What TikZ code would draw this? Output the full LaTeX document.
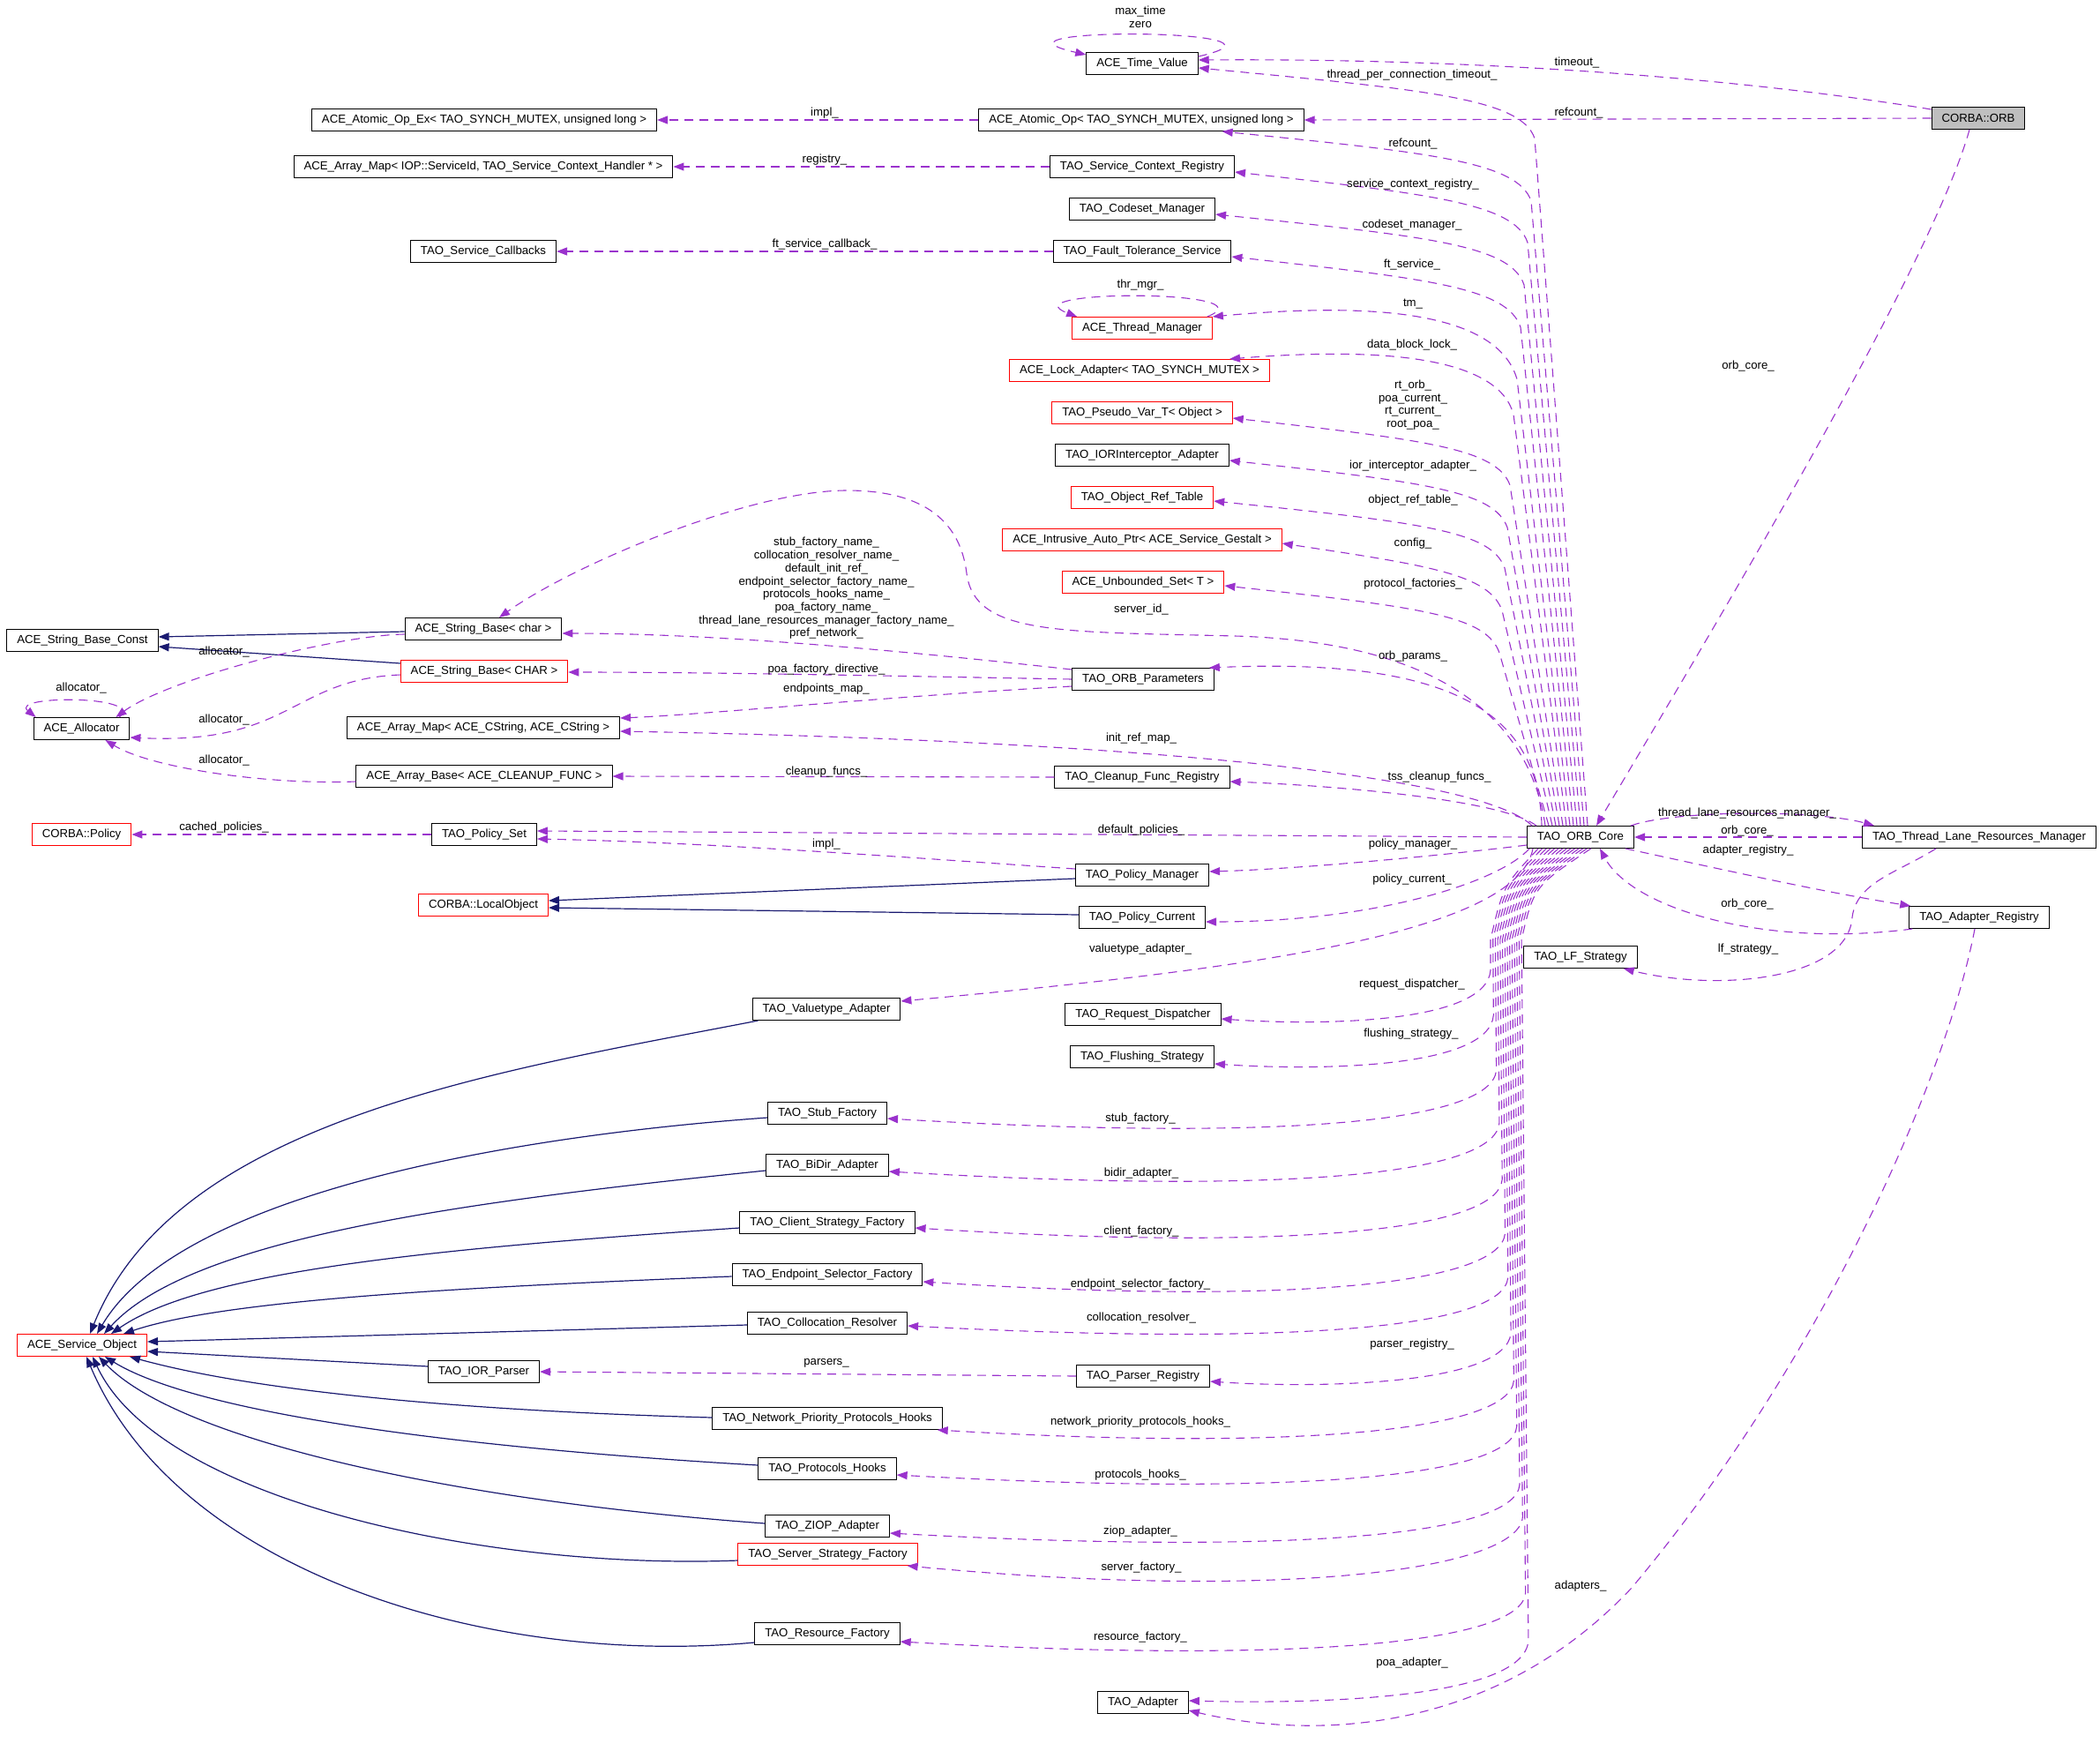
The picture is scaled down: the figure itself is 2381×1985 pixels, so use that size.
\documentclass[tikz,border=0pt]{standalone}
\usepackage{fontspec}
\setmainfont{Liberation Sans}
\usepackage{tikz}
\usetikzlibrary{arrows.meta}
\definecolor{memberc}{RGB}{154,50,205}
\definecolor{inheritc}{RGB}{25,25,112}
\definecolor{rootfill}{RGB}{191,191,191}

\begin{document}
\begin{tikzpicture}[
        x = 1pt, y = -1pt,
        font = \fontsize{13.2}{14.7}\selectfont,
        cls/.style = {draw=black, fill=white, line width=1pt, inner xsep=11.5pt,
            inner ysep=0pt, minimum height=25pt},
        clsred/.style = {cls, draw=red},
        member/.style = {draw=memberc, line width=1.1pt, dash pattern=on 10pt off 7pt,
            -{Triangle[length=12pt,width=9pt]}},
        inherit/.style = {draw=inheritc, line width=1.2pt, -{Triangle[length=12pt,width=9pt]}},
        lbl/.style = {inner sep=0pt, align=center},
        ]
        \useasboundingbox (0,0) rectangle (2381,1985);

        % Classes, top block
        \node[cls] (timeval) at (1295,72) {ACE\_Time\_Value};
        \node[cls] (atomicopex) at (549,136) {ACE\_Atomic\_Op\_Ex< TAO\_SYNCH\_MUTEX, unsigned long >};
        \node[cls] (atomicop) at (1294,136) {ACE\_Atomic\_Op< TAO\_SYNCH\_MUTEX, unsigned long >};
        \node[cls, fill=rootfill] (corbaorb) at (2243,134) {CORBA::ORB};
        \node[cls] (arraymapiop) at (548,189) {ACE\_Array\_Map< IOP::ServiceId, TAO\_Service\_Context\_Handler * >};
        \node[cls] (svcctxreg) at (1295,189) {TAO\_Service\_Context\_Registry};
        \node[cls] (codesetmgr) at (1295,237) {TAO\_Codeset\_Manager};
        \node[cls] (svccallbacks) at (548,285) {TAO\_Service\_Callbacks};
        \node[cls] (ftservice) at (1295,285) {TAO\_Fault\_Tolerance\_Service};
        \node[clsred] (thrmgr) at (1295,372) {ACE\_Thread\_Manager};
        \node[clsred] (lockadp) at (1292,420) {ACE\_Lock\_Adapter< TAO\_SYNCH\_MUTEX >};
        \node[clsred] (pseudovar) at (1295,468) {TAO\_Pseudo\_Var\_T< Object >};
        \node[cls] (iorinterc) at (1295,516) {TAO\_IORInterceptor\_Adapter};
        \node[clsred] (objreftable) at (1295,564) {TAO\_Object\_Ref\_Table};
        \node[clsred] (intrusive) at (1295,612) {ACE\_Intrusive\_Auto\_Ptr< ACE\_Service\_Gestalt >};
        \node[clsred] (unboundedset) at (1296,660) {ACE\_Unbounded\_Set< T >};

        % Classes, middle block
        \node[cls] (sbconst) at (93.5,726) {ACE\_String\_Base\_Const};
        \node[cls] (sbchar) at (548,713) {ACE\_String\_Base< char >};
        \node[clsred] (sbCHAR) at (549,761) {ACE\_String\_Base< CHAR >};
        \node[cls] (orbparams) at (1296,770) {TAO\_ORB\_Parameters};
        \node[cls] (allocator) at (92.5,826) {ACE\_Allocator};
        \node[cls] (arraymapcs) at (548,825) {ACE\_Array\_Map< ACE\_CString, ACE\_CString >};
        \node[cls] (arraybase) at (549,880) {ACE\_Array\_Base< ACE\_CLEANUP\_FUNC >};
        \node[cls] (cleanupreg) at (1295,881) {TAO\_Cleanup\_Func\_Registry};
        \node[clsred] (corbapolicy) at (92.6,946) {CORBA::Policy};
        \node[cls] (policyset) at (549,946) {TAO\_Policy\_Set};
        \node[cls] (orbcore) at (1792,949) {TAO\_ORB\_Core};
        \node[cls] (tlrm) at (2244,949) {TAO\_Thread\_Lane\_Resources\_Manager};
        \node[cls] (policymgr) at (1295,992) {TAO\_Policy\_Manager};
        \node[clsred] (localobj) at (548,1026) {CORBA::LocalObject};
        \node[cls] (policycur) at (1295,1040) {TAO\_Policy\_Current};
        \node[cls] (adapterreg) at (2244,1040) {TAO\_Adapter\_Registry};
        \node[cls] (lfstrategy) at (1792,1085) {TAO\_LF\_Strategy};

        % Classes, bottom block
        \node[cls] (valuetype) at (937,1144) {TAO\_Valuetype\_Adapter};
        \node[cls] (reqdisp) at (1296,1150) {TAO\_Request\_Dispatcher};
        \node[cls] (flushing) at (1295,1198) {TAO\_Flushing\_Strategy};
        \node[cls] (stubfac) at (938,1262) {TAO\_Stub\_Factory};
        \node[cls] (bidir) at (938,1321) {TAO\_BiDir\_Adapter};
        \node[cls] (clientfac) at (938,1386) {TAO\_Client\_Strategy\_Factory};
        \node[cls] (endpointfac) at (938,1445) {TAO\_Endpoint\_Selector\_Factory};
        \node[cls] (colloc) at (938,1500) {TAO\_Collocation\_Resolver};
        \node[clsred] (svcobj) at (93,1525) {ACE\_Service\_Object};
        \node[cls] (iorparser) at (548.5,1555) {TAO\_IOR\_Parser};
        \node[cls] (parserreg) at (1296,1560) {TAO\_Parser\_Registry};
        \node[cls] (npph) at (938,1608) {TAO\_Network\_Priority\_Protocols\_Hooks};
        \node[cls] (protohooks) at (938,1665) {TAO\_Protocols\_Hooks};
        \node[cls] (ziop) at (938,1730) {TAO\_ZIOP\_Adapter};
        \node[clsred] (serverfac) at (938.5,1762) {TAO\_Server\_Strategy\_Factory};
        \node[cls] (resourcefac) at (938,1852) {TAO\_Resource\_Factory};
        \node[cls] (adapter) at (1296,1930) {TAO\_Adapter};

        % Inheritance
        \draw[inherit] ([yshift=-3pt]sbchar.west) -- ([yshift=4pt]sbconst.east);
        \draw[inherit] ([yshift=9pt]sbCHAR.west) -- ([yshift=-7pt]sbconst.east);
        \draw[inherit] ([yshift=-4pt]policymgr.west) -- ([yshift=5pt]localobj.east);
        \draw[inherit] ([yshift=3pt]policycur.west) -- ([yshift=-3pt]localobj.east);
        \draw[inherit] ([xshift=7pt]valuetype.south west) .. controls (560,1215) and (200,1270) .. ([xshift=83pt]svcobj.north west);
        \draw[inherit] ([yshift=-5pt]stubfac.west) .. controls (550,1290) and (200,1360) .. ([xshift=91pt]svcobj.north west);
        \draw[inherit] ([yshift=-6pt]bidir.west) .. controls (550,1360) and (220,1400) .. ([xshift=99pt]svcobj.north west);
        \draw[inherit] ([yshift=-6pt]clientfac.west) .. controls (500,1415) and (230,1440) .. ([xshift=107pt]svcobj.north west);
        \draw[inherit] ([yshift=-2pt]endpointfac.west) .. controls (500,1460) and (250,1475) .. ([xshift=121pt]svcobj.north west);
        \draw[inherit] ([yshift=-2pt]colloc.west) -- ([yshift=4pt]svcobj.east);
        \draw[inherit] ([yshift=6pt]iorparser.west) -- ([yshift=-7pt]svcobj.east);
        \draw[inherit] ([yshift=1pt]npph.west) .. controls (550,1600) and (300,1580) .. ([xshift=128pt]svcobj.south west);
        \draw[inherit] ([yshift=4pt]protohooks.west) .. controls (500,1640) and (220,1600) .. ([xshift=100pt]svcobj.south west);
        \draw[inherit] ([yshift=3pt]ziop.west) .. controls (500,1700) and (200,1630) .. ([xshift=93pt]svcobj.south west);
        \draw[inherit] ([yshift=-7pt]serverfac.west) .. controls (550,1780) and (180,1700) .. ([xshift=86pt]svcobj.south west);
        \draw[inherit] ([yshift=-10pt]resourcefac.west) .. controls (550,1890) and (200,1780) .. ([xshift=79pt]svcobj.south west);

        % CORBA::ORB
        \draw[member] ([yshift=-3pt]corbaorb.north west) .. controls (1950,85) and (1650,66) .. ([yshift=4pt]timeval.east);
        \node[lbl] (ltimeout) at (1788,71) {timeout\_};
        \draw[member] (corbaorb.west) -- (atomicop.east);
        \node[lbl] (lrefcountorb) at (1790,128) {refcount\_};
        \draw[member] ([xshift=-10pt]corbaorb.south) .. controls (2190,300) and (1950,700) .. ([xshift=18pt]orbcore.north);
        \node[lbl] (lorbcoreorb) at (1982,415) {orb\_core\_};

        % Self loops and plain members
        \draw[member] ([yshift=-5pt]timeval.north east) .. controls (1500,32) and (1090,30) .. ([yshift=-3pt]timeval.north west);
        \node[lbl] (lmaxtime) at (1293,19) {max\_time\\zero};
        \draw[member] (atomicop.west) -- (atomicopex.east);
        \node[lbl] (limplatomic) at (935,128) {impl\_};
        \draw[member] (svcctxreg.west) -- (arraymapiop.east);
        \node[lbl] (lregistry) at (935,181) {registry\_};
        \draw[member] (ftservice.west) -- (svccallbacks.east);
        \node[lbl] (lftcallback) at (935,277) {ft\_service\_callback\_};
        \draw[member] ([xshift=-6pt]thrmgr.north east) .. controls (1445,328) and (1140,328) .. ([xshift=6pt]thrmgr.north west);
        \node[lbl] (lthrmgr) at (1293,323) {thr\_mgr\_};

        % ORB core, upward members
        \draw[member] ([xshift=8pt]orbcore.north) -- (1740,157) .. controls (1725,112) and (1620,102) .. ([yshift=-5pt]timeval.east);
        \node[lbl] (ltpct) at (1601,85) {thread\_per\_connection\_timeout\_};
        \draw[member] ([xshift=4pt]orbcore.north) -- (1736,228) .. controls (1721,183) and (1620,173) .. ([xshift=-93pt]atomicop.south east);
        \node[lbl] (lrefcountcore) at (1602,163) {refcount\_};
        \draw[member] (orbcore.north) -- (1732,275) .. controls (1717,230) and (1620,220) .. ([yshift=-6pt]svcctxreg.east);
        \node[lbl] (lsvcctx) at (1602,209) {service\_context\_registry\_};
        \draw[member] ([xshift=-4pt]orbcore.north) -- (1728,323) .. controls (1713,278) and (1620,268) .. ([yshift=-6pt]codesetmgr.east);
        \node[lbl] (lcodeset) at (1601,255) {codeset\_manager\_};
        \draw[member] ([xshift=-8pt]orbcore.north) -- (1724,371) .. controls (1709,326) and (1620,316) .. ([yshift=-6pt]ftservice.east);
        \node[lbl] (lftservice) at (1601,300) {ft\_service\_};
        \draw[member] ([xshift=-12pt]orbcore.north) -- (1720,430) .. controls (1700,360) and (1580,340) .. (thrmgr.north east);
        \node[lbl] (ltm) at (1602,345) {tm\_};
        \draw[member] ([xshift=-16pt]orbcore.north) -- (1716,470) .. controls (1700,408) and (1580,392) .. ([xshift=-46pt]lockadp.north east);
        \node[lbl] (ldatablock) at (1601,391) {data\_block\_lock\_};
        \draw[member] ([xshift=-20pt]orbcore.north) -- (1712,550) .. controls (1697,509) and (1620,499) .. ([yshift=-6pt]pseudovar.east);
        \node[lbl] (lpseudo) at (1602,459) {rt\_orb\_\\poa\_current\_\\rt\_current\_\\root\_poa\_};
        \draw[member] ([xshift=-24pt]orbcore.north) -- (1709,598) .. controls (1694,557) and (1620,547) .. ([yshift=-6pt]iorinterc.east);
        \node[lbl] (lior) at (1602,528) {ior\_interceptor\_adapter\_};
        \draw[member] ([xshift=-28pt]orbcore.north) -- (1706,644) .. controls (1691,603) and (1620,593) .. ([yshift=-4pt]objreftable.east);
        \node[lbl] (lobjref) at (1602,567) {object\_ref\_table\_};
        \draw[member] ([xshift=-32pt]orbcore.north) -- (1703,692) .. controls (1688,651) and (1620,641) .. ([yshift=-4pt]intrusive.east);
        \node[lbl] (lconfig) at (1602,616) {config\_};
        \draw[member] ([xshift=-36pt]orbcore.north) -- (1700,740) .. controls (1685,699) and (1620,689) .. ([yshift=-4pt]unboundedset.east);
        \node[lbl] (lprotofac) at (1602,662) {protocol\_factories\_};
        \draw[member] ([xshift=-40pt]orbcore.north) .. controls (1735,820) and (1640,728) .. (1400,721)
            .. controls (1200,716) and (1105,720) .. (1096,650) .. controls (1088,585) and (1040,556) .. (960,556)
            .. controls (850,556) and (650,640) .. ([xshift=18pt]sbchar.north);
        \node[lbl] (lserverid) at (1294,691) {server\_id\_};
        \draw[member] ([xshift=-44pt]orbcore.north) .. controls (1745,810) and (1650,745) .. ([xshift=-6pt]orbparams.north east);
        \node[lbl] (lorbparams) at (1602,744) {orb\_params\_};
        \draw[member] ([xshift=-55pt]orbcore.north) .. controls (1680,880) and (1300,840) .. ([yshift=-4pt]arraymapcs.east);
        \node[lbl] (linitref) at (1294,837) {init\_ref\_map\_};
        \draw[member] ([xshift=-50pt]orbcore.north) .. controls (1700,905) and (1500,890) .. ([yshift=-5pt]cleanupreg.east);
        \node[lbl] (ltsscleanup) at (1632,881) {tss\_cleanup\_funcs\_};

        % Parameters, strings and allocator
        \draw[member] ([yshift=11pt]orbparams.west) .. controls (1000,735) and (800,718) .. ([yshift=-5pt]sbchar.east);
        \node[lbl] (lnames) at (937,667) {stub\_factory\_name\_\\collocation\_resolver\_name\_\\default\_init\_ref\_\\endpoint\_selector\_factory\_name\_\\protocols\_hooks\_name\_\\poa\_factory\_name\_\\thread\_lane\_resources\_manager\_factory\_name\_\\pref\_network\_};
        \draw[member] (orbparams.west) .. controls (1000,766) and (800,762) .. ([yshift=-1pt]sbCHAR.east);
        \node[lbl] (lpoadirective) at (937,759) {poa\_factory\_directive\_};
        \draw[member] ([yshift=-8pt]orbparams.west) .. controls (1000,790) and (800,810) .. ([yshift=11pt]arraymapcs.east);
        \node[lbl] (lendpoints) at (937,781) {endpoints\_map\_};
        \draw[member] ([yshift=-6pt]sbchar.west) .. controls (380,720) and (190,770) .. ([xshift=-16pt]allocator.north east);
        \node[lbl] (lalloca) at (254,739) {allocator\_};
        \draw[member] ([xshift=-12pt]allocator.north east) .. controls (165,788) and (10,788) .. ([xshift=3pt]allocator.north west);
        \node[lbl] (lallocb) at (92,780) {allocator\_};
        \draw[member] ([yshift=-4pt]sbCHAR.west) .. controls (330,770) and (330,845) .. ([yshift=-10pt]allocator.east);
        \node[lbl] (lallocc) at (254,816) {allocator\_};
        \draw[member] ([yshift=-6pt]arraybase.west) .. controls (300,890) and (170,870) .. ([xshift=-28pt]allocator.south east);
        \node[lbl] (lallocd) at (254,862) {allocator\_};
        \draw[member] (cleanupreg.west) -- (arraybase.east);
        \node[lbl] (lcleanup) at (937,875) {cleanup\_funcs\_};

        % Policies
        \draw[member] (policyset.west) -- (corbapolicy.east);
        \node[lbl] (lcached) at (254,938) {cached\_policies\_};
        \draw[member] (orbcore.west) -- ([yshift=4pt]policyset.east);
        \node[lbl] (ldefpol) at (1294,941) {default\_policies\_};
        \draw[member] ([yshift=7pt]policymgr.west) .. controls (1000,970) and (800,955) .. ([yshift=-5pt]policyset.east);
        \node[lbl] (limplpol) at (937,957) {impl\_};
        \draw[member] ([yshift=-9pt]orbcore.west) .. controls (1650,968) and (1480,985) .. ([yshift=4pt]policymgr.east);
        \node[lbl] (lpolmgr) at (1602,957) {policy\_manager\_};
        \draw[member] ([xshift=-58pt]orbcore.south) .. controls (1700,1000) and (1560,1045) .. ([yshift=-5pt]policycur.east);
        \node[lbl] (lpolcur) at (1601,997) {policy\_current\_};

        % Thread lanes and adapters
        \draw[member] ([xshift=-4pt]orbcore.north east) .. controls (1900,918) and (2060,918) .. ([xshift=14pt]tlrm.north west);
        \node[lbl] (ltlrm) at (1981,922) {thread\_lane\_resources\_manager\_};
        \draw[member] (tlrm.west) -- (orbcore.east);
        \node[lbl] (lorbcoretlrm) at (1981,942) {orb\_core\_};
        \draw[member] ([xshift=-10pt]orbcore.south east) .. controls (1950,985) and (2060,1010) .. ([xshift=2pt]adapterreg.north west);
        \node[lbl] (ladapterreg) at (1982,964) {adapter\_registry\_};
        \draw[member] ([xshift=4pt]adapterreg.south west) .. controls (2000,1075) and (1850,1030) .. ([xshift=22pt]orbcore.south);
        \node[lbl] (lorbcorereg) at (1981,1025) {orb\_core\_};
        \draw[member] ([xshift=-49pt]tlrm.south) .. controls (2150,990) and (2105,1000) .. (2100,1040)
            .. controls (2095,1110) and (1950,1125) .. ([xshift=-16pt]lfstrategy.south east);
        \node[lbl] (llfstrategy) at (1982,1076) {lf\_strategy\_};
        \draw[member] ([xshift=-5pt]adapterreg.south) .. controls (2205,1230) and (2060,1550) .. (1850,1800)
            .. controls (1700,1960) and (1500,1975) .. ([yshift=-9pt]adapter.east);
        \node[lbl] (ladapters) at (1792,1798) {adapters\_};

        % ORB core, downward members
        \draw[member] ([xshift=-54pt]orbcore.south) .. controls (1720,1060) and (1400,1100) .. ([yshift=9pt]valuetype.east);
        \node[lbl] (lvaluetype) at (1293,1076) {valuetype\_adapter\_};
        \draw[member] ([xshift=-48pt]orbcore.south) .. controls (1704,1005) .. (1690,1065) -- (1690,1100)
            .. controls (1685,1160) and (1500,1163) .. ([yshift=-5pt]reqdisp.east);
        \node[lbl] (lreqdisp) at (1601,1116) {request\_dispatcher\_};
        \draw[member] ([xshift=-43.4pt]orbcore.south) .. controls (1706.7,1005) .. (1692.7,1065) -- (1693.3,1151)
            .. controls (1688.3,1211) and (1497,1214) .. ([yshift=-8pt]flushing.east);
        \node[lbl] (lflushing) at (1600,1172) {flushing\_strategy\_};
        \draw[member] ([xshift=-38.8pt]orbcore.south) .. controls (1709.4,1005) .. (1695.4,1065) -- (1696.6,1213)
            .. controls (1691.6,1273) and (1450,1294) .. ([yshift=-6pt]stubfac.east);
        \node[lbl] (lstubfac) at (1293,1268) {stub\_factory\_};
        \draw[member] ([xshift=-34.2pt]orbcore.south) .. controls (1712.1,1005) .. (1698.1,1065) -- (1699.9,1273)
            .. controls (1694.9,1333) and (1450,1354) .. ([yshift=-7pt]bidir.east);
        \node[lbl] (lbidir) at (1294,1330) {bidir\_adapter\_};
        \draw[member] ([xshift=-29.6pt]orbcore.south) .. controls (1714.8,1005) .. (1700.8,1065) -- (1703.2,1337)
            .. controls (1698.2,1397) and (1450,1418) .. ([yshift=-6pt]clientfac.east);
        \node[lbl] (lclientfac) at (1294,1396) {client\_factory\_};
        \draw[member] ([xshift=-25pt]orbcore.south) .. controls (1717.5,1005) .. (1703.5,1065) -- (1706.5,1398)
            .. controls (1701.5,1458) and (1450,1479) .. ([yshift=-8pt]endpointfac.east);
        \node[lbl] (lendpointfac) at (1293,1456) {endpoint\_selector\_factory\_};
        \draw[member] ([xshift=-20.4pt]orbcore.south) .. controls (1720.2,1005) .. (1706.2,1065) -- (1709.8,1448)
            .. controls (1704.8,1508) and (1450,1525) .. ([yshift=-3pt]colloc.east);
        \node[lbl] (lcolloc) at (1294,1494) {collocation\_resolver\_};
        \draw[member] ([xshift=-15.8pt]orbcore.south) .. controls (1722.9,1005) .. (1708.9,1065) -- (1713.1,1511)
            .. controls (1708.1,1571) and (1491,1574) .. ([yshift=-6pt]parserreg.east);
        \node[lbl] (lparserreg) at (1601,1524) {parser\_registry\_};
        \draw[member] (parserreg.west) -- (iorparser.east);
        \node[lbl] (lparsers) at (937,1545) {parsers\_};
        \draw[member] ([xshift=-11.2pt]orbcore.south) .. controls (1725.6,1005) .. (1711.6,1065) -- (1716.4,1565)
            .. controls (1711.4,1625) and (1450,1644) .. ([xshift=-6pt]npph.south east);
        \node[lbl] (lnpph) at (1293,1612) {network\_priority\_protocols\_hooks\_};
        \draw[member] ([xshift=-6.6pt]orbcore.south) .. controls (1728.3,1005) .. (1714.3,1065) -- (1719.7,1617)
            .. controls (1714.7,1677) and (1450,1696) .. ([yshift=-7pt]protohooks.east);
        \node[lbl] (lprotohooks) at (1293,1672) {protocols\_hooks\_};
        \draw[member] ([xshift=-2pt]orbcore.south) .. controls (1731,1005) .. (1717,1065) -- (1723,1683)
            .. controls (1718,1743) and (1450,1762) .. ([yshift=-8pt]ziop.east);
        \node[lbl] (lziop) at (1293,1736) {ziop\_adapter\_};
        \draw[member] ([xshift=2.6pt]orbcore.south) .. controls (1733.7,1005) .. (1719.7,1065) -- (1726.3,1720)
            .. controls (1721.3,1780) and (1450,1815) .. ([xshift=-12pt]serverfac.south east);
        \node[lbl] (lserverfac) at (1294,1777) {server\_factory\_};
        \draw[member] ([xshift=7.2pt]orbcore.south) .. controls (1736.4,1005) .. (1722.4,1065) -- (1729.6,1806)
            .. controls (1724.6,1866) and (1450,1885) .. ([yshift=-9pt]resourcefac.east);
        \node[lbl] (lresourcefac) at (1293,1856) {resource\_factory\_};
        \draw[member] ([xshift=11.8pt]orbcore.south) .. controls (1739.1,1005) .. (1725.1,1065) -- (1732.9,1860)
            .. controls (1727.9,1925) and (1500,1932) .. ([yshift=2pt]adapter.east);
        \node[lbl] (lpoaadapter) at (1601,1885) {poa\_adapter\_};
    \end{tikzpicture}
\end{document}
